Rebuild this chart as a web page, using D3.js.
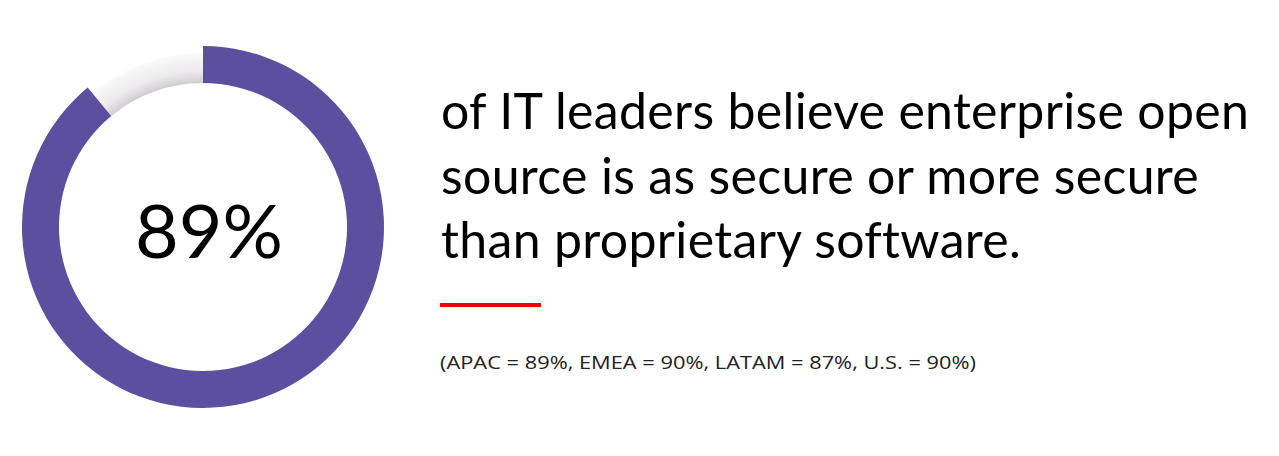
<!DOCTYPE html>
<html>
<head>
<meta charset="utf-8">
<script src="https://cdn.jsdelivr.net/npm/d3@7"></script>
<style>
  html, body { margin: 0; padding: 0; background: #fff; }
  svg { display: block; }
</style>
</head>
<body>
<div id="chart"></div>
<script>
// data
var share = 89;
var shareLabel = "89%";
var statementLines = [
  "of IT leaders believe enterprise open",
  "source is as secure or more secure",
  "than proprietary software."
];
var regions = ["APAC", "EMEA", "LATAM", "U.S."];
var regionValues = [89, 90, 87, 90];

var width = 1279, height = 456;
var svg = d3.select("#chart").append("svg")
    .attr("width", width)
    .attr("height", height);

var defs = svg.append("defs");
var grad = defs.append("radialGradient")
    .attr("id", "restShade")
    .attr("gradientUnits", "userSpaceOnUse")
    .attr("cx", 0).attr("cy", 0).attr("r", 175);
grad.append("stop").attr("offset", "0.82").attr("stop-color", "#cfcccf");
grad.append("stop").attr("offset", "0.89").attr("stop-color", "#eceaec");
grad.append("stop").attr("offset", "1").attr("stop-color", "#fbfbfb");

var g = svg.append("g")
    .attr("transform", "translate(203,227)");

var pie = d3.pie().sort(null).value(function(d) { return d; });
var slices = pie([share, 100 - share]);

var arcMain = d3.arc().innerRadius(144).outerRadius(181);
var arcRest = d3.arc().innerRadius(144).outerRadius(174);

g.append("path")
    .attr("d", arcRest(slices[1]))
    .attr("fill", "url(#restShade)");

g.append("path")
    .attr("d", arcMain(slices[0]))
    .attr("fill", "#5d4f9f");

g.append("text")
    .attr("x", 6)
    .attr("y", 31)
    .attr("text-anchor", "middle")
    .attr("textLength", 148)
    .attr("lengthAdjust", "spacingAndGlyphs")
    .style("font-family", "Lato, sans-serif")
    .style("font-size", "74px")
    .style("fill", "#000")
    .text(shareLabel);

// statement
var lineY = d3.scaleLinear().domain([0, 2]).range([129, 258]);
var txt = svg.append("g");
txt.selectAll("text")
    .data(statementLines)
  .enter().append("text")
    .attr("x", 441)
    .attr("y", function(d, i) { return lineY(i); })
    .style("font-family", "Lato, sans-serif")
    .style("font-size", "50px")
    .style("fill", "#000")
    .text(function(d) { return d; });

// match the first line width of the reference
var first = txt.select("text").node();
var natural = first.getComputedTextLength();
var spacing = (808 - natural) / (statementLines[0].length - 1);
txt.selectAll("text").style("letter-spacing", spacing + "px");

svg.append("line")
    .attr("x1", 440).attr("x2", 541)
    .attr("y1", 305).attr("y2", 305)
    .attr("stroke", "#ee0000")
    .attr("stroke-width", 4);

var foot = "(" + regions.map(function(r, i) {
  return r + " = " + regionValues[i] + "%";
}).join(", ") + ")";

svg.append("text")
    .attr("x", 440)
    .attr("y", 369)
    .attr("textLength", 536)
    .attr("lengthAdjust", "spacingAndGlyphs")
    .style("font-family", "'Open Sans', sans-serif")
    .style("font-size", "17.5px")
    .style("fill", "#222")
    .text(foot);
</script>
</body>
</html>
